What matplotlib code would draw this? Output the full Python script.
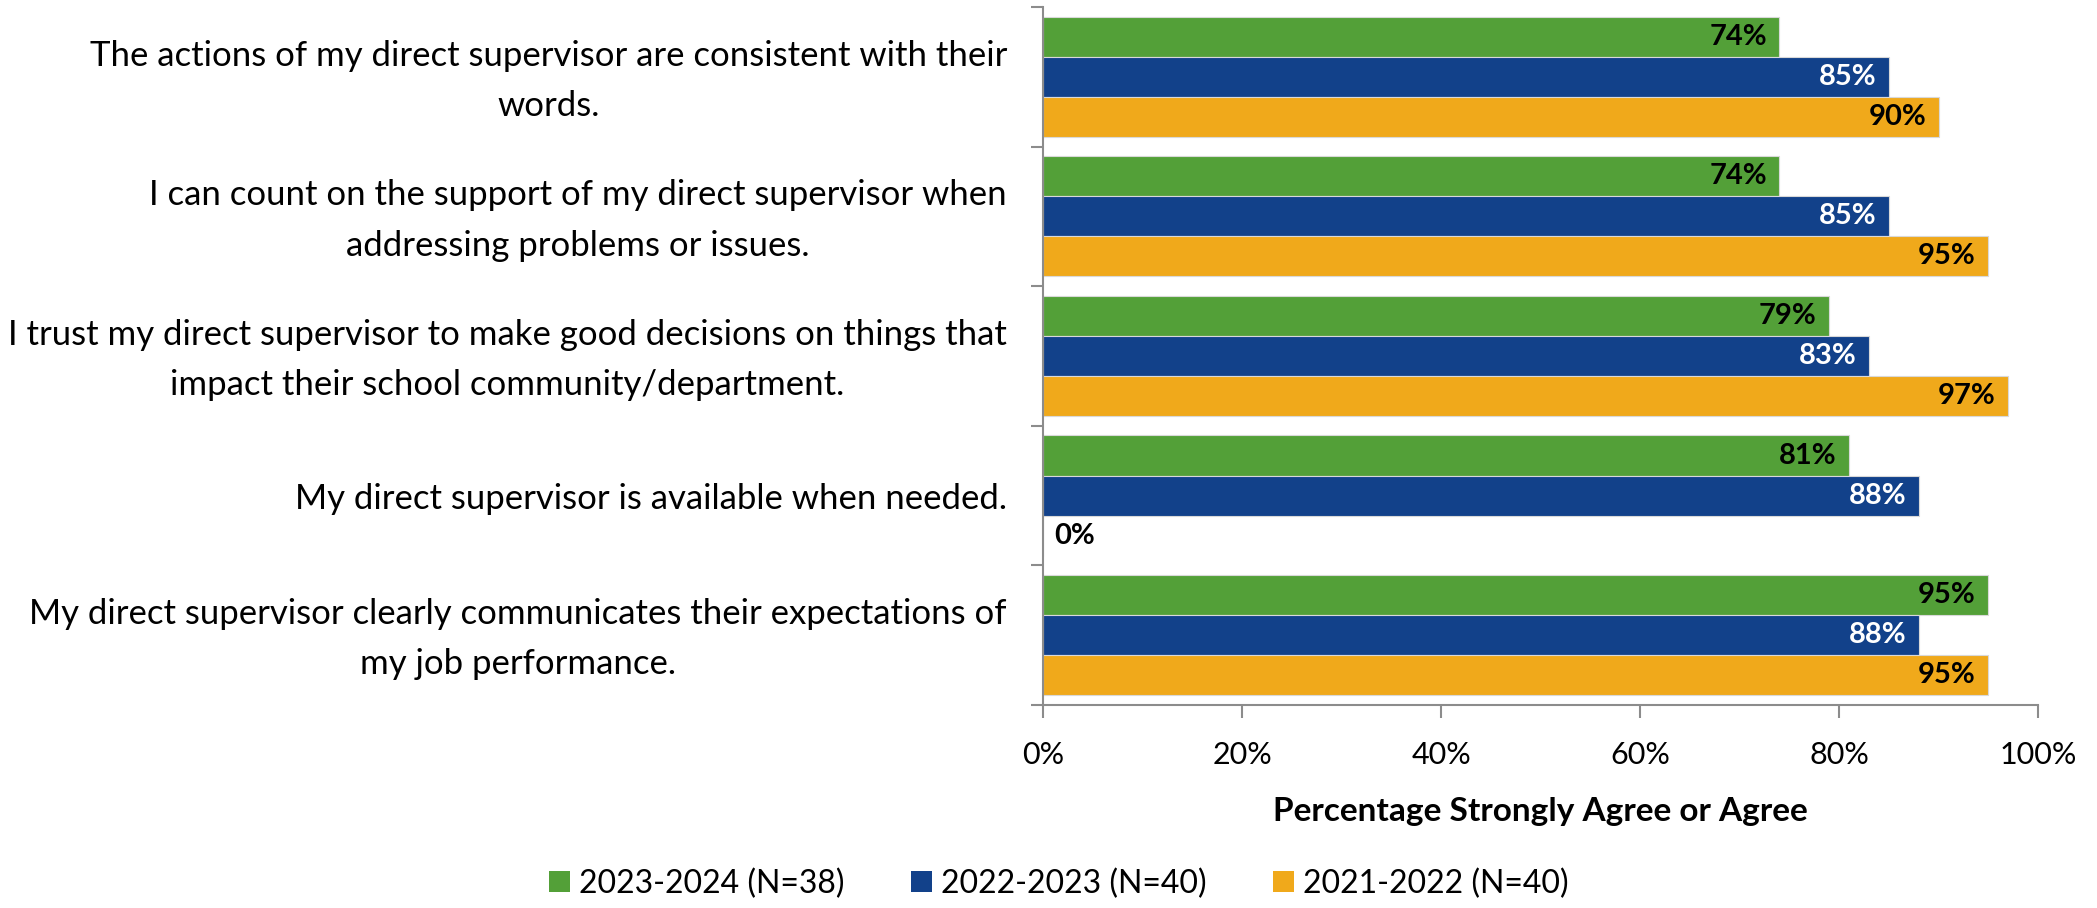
import numpy as np
import matplotlib.pyplot as plt
import matplotlib.transforms as mtransforms
from matplotlib.patches import Patch

plt.rcParams['font.family'] = ['Lato', 'DejaVu Sans']

questions = [
    'The actions of my direct supervisor are consistent with their\nwords.',
    'I can count on the support of my direct supervisor when\naddressing problems or issues.',
    'I trust my direct supervisor to make good decisions on things that\nimpact their school community/department.',
    'My direct supervisor is available when needed.',
    'My direct supervisor clearly communicates their expectations of\nmy job performance.',
]
series_names = ['2023-2024 (N=38)', '2022-2023 (N=40)', '2021-2022 (N=40)']
vals_2324 = [74, 74, 79, 81, 95]
vals_2223 = [85, 85, 83, 88, 88]
vals_2122 = [90, 95, 97, 0, 95]
x_ticks = [0, 20, 40, 60, 80, 100]

colors = ['#53A038', '#12418A', '#F0A91B']
label_colors = ['black', 'white', 'black']
grey = '#8C8C8C'

fig = plt.figure(figsize=(20.97, 9.08), dpi=100)
ax = fig.add_axes([0.4974, 0.2236, 0.9719 - 0.4974, 0.9923 - 0.2236])

n = len(questions)
centers = np.arange(n)
bar_h = 0.287
all_vals = [vals_2324, vals_2223, vals_2122]

for k, (vals, col, lcol, name) in enumerate(zip(all_vals, colors, label_colors, series_names)):
    ypos = centers + (k - 1) * bar_h
    ax.barh(ypos, vals, height=bar_h, color=col, edgecolor='#D9D9D9', linewidth=0.8, label=name)
    for y, v in zip(ypos, vals):
        if v == 0:
            ax.annotate(f'{v}%', (v, y), xytext=(8, 0), textcoords='offset points',
                        ha='left', va='center', fontsize=21, fontweight='bold', color='black')
        else:
            ax.annotate(f'{v}%', (v, y), xytext=(-9, 0), textcoords='offset points',
                        ha='right', va='center', fontsize=21, fontweight='bold', color=lcol)

ax.set_xlim(0, 100)
ax.set_ylim(n - 0.5, -0.5)
ax.set_xticks(x_ticks)
ax.set_xticklabels([f'{t}%' for t in x_ticks], fontsize=22)
ax.tick_params(axis='x', direction='out', length=9, width=1.5, color=grey, pad=17)

# category labels at centers, ticks at boundaries
ax.set_yticks(centers)
ax.set_yticklabels(questions, fontsize=25, multialignment='center', linespacing=1.7)
ax.tick_params(axis='y', which='major', length=0, pad=26)
ax.set_yticks(np.arange(n + 1) - 0.5, minor=True)
ax.tick_params(axis='y', which='minor', direction='out', length=9, width=1.5, color=grey)

# two-line labels sit a bit low, nudge them up
nudge = mtransforms.ScaledTranslation(0, 8 / 100, fig.dpi_scale_trans)
for lbl in ax.get_yticklabels():
    if '\n' in lbl.get_text():
        lbl.set_transform(lbl.get_transform() + nudge)

for s in ['top', 'right']:
    ax.spines[s].set_visible(False)
for s in ['left', 'bottom']:
    ax.spines[s].set_color(grey)
    ax.spines[s].set_linewidth(1.5)

ax.set_xlabel('Percentage Strongly Agree or Agree', fontsize=24, fontweight='bold', labelpad=20)

handles = [Patch(facecolor=c, label=l) for c, l in zip(colors, series_names)]
fig.legend(handles=handles, loc='center', bbox_to_anchor=(0.505, 0.027), ncol=3, frameon=False,
           fontsize=23, handlelength=0.65, handleheight=0.65, handletextpad=0.3, columnspacing=2.07)

fig.savefig('out.png', dpi=100)
